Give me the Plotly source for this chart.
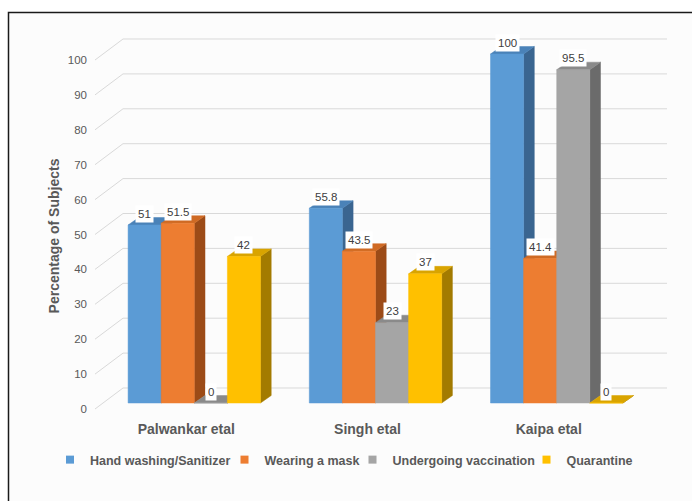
import plotly.graph_objects as go

# ---------------- data ----------------
categories = ["Palwankar etal", "Singh etal", "Kaipa etal"]
series_names = ["Hand washing/Sanitizer", "Wearing a mask",
                "Undergoing vaccination", "Quarantine"]
hand_washing = [51, 55.8, 100]
wearing_mask = [51.5, 43.5, 41.4]
vaccination = [0, 23, 95.5]
quarantine = [42, 37, 0]
y_ticks = [0, 10, 20, 30, 40, 50, 60, 70, 80, 90, 100]
y_title = "Percentage of Subjects"

series_values = [hand_washing, wearing_mask, vaccination, quarantine]

# ---------------- styles ----------------
front_colors = ["#5B9BD5", "#ED7D31", "#A5A5A5", "#FFC000"]
top_colors = ["#4A82B8", "#CF6A24", "#8A8A8A", "#D9A400"]
side_colors = ["#3A6590", "#9C4B17", "#6B6B6B", "#A37B00"]
legend_item_widths = [129.5, 83, 129, 80]   # px, spacing of legend entries
grid_color = "#D9D9D9"
text_color = "#595959"
label_color = "#404040"

W, H = 692, 501
PX_X = 181.2      # pixels per category step
PX_Y = 3.49       # pixels per percent
X0 = 194.3        # pixel x of first group centre (bar front plane)
Y0 = 403.0        # pixel y of 0 % on the bar front plane
Y0_LABEL = 409.0  # pixel y of 0 % on the front (tick label) plane
LABEL_SHIFT = 8.0 # front plane is shifted left by this many px
DOM_BOTTOM_PX = 472.0  # bottom of plot domain (so axis title centres at 236 px)

group_width = 132.4 / PX_X
bw = group_width / 4
dxb, dyb = 10.7 / PX_X, 7.5 / PX_Y          # bar depth
g_x_front, g_x_back, g_x_end = 95, 123, 667  # px for grid geometry


def px2x(px):
    return (px - X0) / PX_X


fig = go.Figure()

# ---------------- gridlines (3D back wall) ----------------
gx, gy = [], []
for v in y_ticks:
    yf = v - (Y0_LABEL - Y0) / PX_Y
    yb = v + 15.0 / PX_Y
    gx += [px2x(g_x_front), px2x(g_x_back), px2x(g_x_end), None]
    gy += [yf, yb, yb, None]
fig.add_trace(go.Scatter(x=gx, y=gy, mode="lines",
                         line=dict(color=grid_color, width=1),
                         hoverinfo="skip", showlegend=False))

# ---------------- 3D bars ----------------
for s, (name, vals) in enumerate(zip(series_names, series_values)):
    sx, sy, tx, ty, fx, fy = [], [], [], [], [], []
    for i, v in enumerate(vals):
        xl = i + (s - 1.5) * bw - bw / 2
        xr = xl + bw
        sx += [xr, xr + dxb, xr + dxb, xr, xr, None]
        sy += [0, dyb, v + dyb, v, 0, None]
        tx += [xl, xr, xr + dxb, xl + dxb, xl, None]
        ty += [v, v, v + dyb, v + dyb, v, None]
        fx += [xl, xr, xr, xl, xl, None]
        fy += [0, 0, v, v, 0, None]
    for xs, ys, col in ((sx, sy, side_colors[s]), (tx, ty, top_colors[s]),
                        (fx, fy, front_colors[s])):
        fig.add_trace(go.Scatter(x=xs, y=ys, mode="lines", fill="toself",
                                 fillcolor=col, line=dict(color=col, width=0.5),
                                 hoverinfo="skip", showlegend=False))

# legend entries (small squares)
for s, name in enumerate(series_names):
    fig.add_trace(go.Scatter(x=[None], y=[None], mode="markers", name=name,
                             legendwidth=legend_item_widths[s],
                             marker=dict(symbol="square", size=8,
                                         color=front_colors[s]),
                             xaxis="x2", yaxis="y2"))

# ---------------- data labels ----------------
annotations = []
for s, vals in enumerate(series_values):
    for i, v in enumerate(vals):
        xc = i + (s - 1.5) * bw
        annotations.append(dict(
            x=xc, y=v + 11.5 / PX_Y, xref="x", yref="y", text=f"{v:g}",
            showarrow=False, bgcolor="white", borderpad=2,
            font=dict(family="Liberation Sans, Arial", size=11.5, color=label_color)))

dom = [(H - DOM_BOTTOM_PX) / H, 1.0]

# ---------------- layout ----------------
fig.update_layout(
    width=W, height=H,
    margin=dict(l=0, r=0, t=0, b=0),
    paper_bgcolor="white",
    plot_bgcolor="rgba(0,0,0,0)",
    font=dict(family="Liberation Sans, Arial", color=text_color),
    xaxis=dict(range=[px2x(0), px2x(W)], visible=False, fixedrange=True),
    yaxis=dict(domain=dom, range=[(Y0 - DOM_BOTTOM_PX) / PX_Y, Y0 / PX_Y],
               visible=False, fixedrange=True),
    xaxis2=dict(overlaying="x", anchor="free", position=(H - 419) / H,
                range=[(0 - X0 + LABEL_SHIFT) / PX_X, (W - X0 + LABEL_SHIFT) / PX_X],
                tickmode="array", tickvals=[0, 1, 2], ticktext=categories,
                showgrid=False, zeroline=False, showline=False, ticks="",
                tickfont=dict(size=14, color=text_color, weight="bold")),
    yaxis2=dict(overlaying="y", anchor="free", position=87 / W, side="left",
                range=[(Y0_LABEL - DOM_BOTTOM_PX) / PX_Y, Y0_LABEL / PX_Y],
                tickmode="array", tickvals=y_ticks,
                showgrid=False, zeroline=False, showline=False, ticks="",
                tickfont=dict(size=11.5, color=text_color),
                title=dict(text=y_title, standoff=3,
                           font=dict(size=14, color=text_color, weight="bold"))),
    legend=dict(orientation="h", xanchor="left", x=50 / W,
                yanchor="middle", y=(H - 460) / H,
                font=dict(size=12.5, color=text_color, weight="bold"),
                bgcolor="rgba(0,0,0,0)", itemclick=False, itemdoubleclick=False),
    annotations=annotations,
    shapes=[dict(type="rect", xref="paper", yref="paper",
                 x0=8.5 / W, x1=1.2, y0=-0.2, y1=(H - 12.5) / H,
                 line=dict(color="#1a1a1a", width=1.5),
                 fillcolor="#FCFCFC", layer="below")],
)

fig.write_html("out.html")
